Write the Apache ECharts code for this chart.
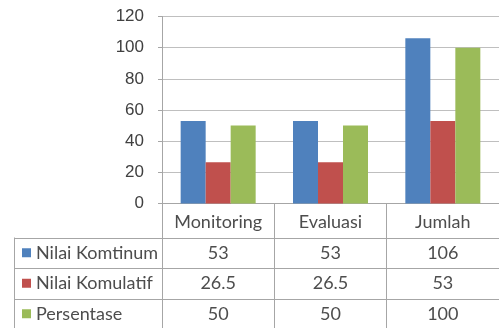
<!DOCTYPE html>
<html>
<head>
<meta charset="utf-8">
<script src="https://cdn.jsdelivr.net/npm/echarts@6/dist/echarts.min.js"></script>
<style>
  html, body { margin: 0; padding: 0; background: #fff; }
  #chart { width: 499px; height: 328px; }
</style>
</head>
<body>
<div id="chart"></div>
<script>
// Categories and series values
const categories = ['Monitoring', 'Evaluasi', 'Jumlah'];
const seriesNames = ['Nilai Komtinum', 'Nilai Komulatif', 'Persentase'];
const komtinum = [53, 53, 106];
const komulatif = [26.5, 26.5, 53];
const persentase = [50, 50, 100];
const seriesValues = [komtinum, komulatif, persentase];
const seriesColors = ['#4F81BD', '#C0504D', '#9BBB59'];
const yMin = 0, yMax = 120, yStep = 20;

// Layout of the plot and the data table beneath it
const gridLeft = 162, gridTop = 16.5, gridWidth = 342, gridHeight = 187;
const gridBottom = gridTop + gridHeight;
const headerH = 34, rowH = 30.5;
const tableLeft = 14;
const lineColor = '#a6a6a6';
const textColor = '#4d4d4d';
const tableFont = 'Lato';

// Axis labels carry the category header and the value rows of the table
function tableColumn(value, idx) {
  const rows = seriesValues.map(s => '{v|' + s[idx] + '}');
  return ['{c|' + value + '}'].concat(rows).join('\n');
}

// Horizontal rules of the table
const tableLines = [];
for (let r = 0; r <= seriesNames.length; r++) {
  const y = Math.round(gridBottom + headerH + r * rowH) + 0.5;
  tableLines.push({
    type: 'line', silent: true,
    shape: { x1: tableLeft, y1: y, x2: gridLeft + gridWidth, y2: y },
    style: { stroke: lineColor, lineWidth: 1 }
  });
}
tableLines.push({
  type: 'line', silent: true,
  shape: { x1: tableLeft + 0.5, y1: gridBottom + headerH, x2: tableLeft + 0.5, y2: gridBottom + headerH + seriesNames.length * rowH + 2 },
  style: { stroke: lineColor, lineWidth: 1 }
});

const chart = echarts.init(document.getElementById('chart'), null, { renderer: 'canvas' });
chart.setOption({
  animation: false,
  backgroundColor: '#fff',
  grid: { left: gridLeft, top: gridTop, width: gridWidth, height: gridHeight, containLabel: false },
  legend: {
    data: seriesNames,
    orient: 'vertical',
    left: 22,
    top: gridBottom + headerH + rowH / 2 - 10,
    padding: 0,
    icon: 'rect',
    itemWidth: 9,
    itemHeight: 9,
    itemGap: rowH - 20,
    selectedMode: false,
    textStyle: { fontFamily: tableFont, fontSize: 18, lineHeight: 20, color: textColor }
  },
  xAxis: {
    type: 'category',
    data: categories,
    axisLine: { show: true, lineStyle: { color: lineColor } },
    axisTick: { show: true, length: 130, interval: 0, lineStyle: { color: lineColor } },
    axisLabel: {
      interval: 0,
      margin: 4,
      formatter: tableColumn,
      rich: {
        c: { fontFamily: tableFont, fontSize: 18, lineHeight: 30, color: textColor, align: 'center' },
        v: { fontFamily: tableFont, fontSize: 18, lineHeight: rowH, color: textColor, align: 'center' }
      }
    }
  },
  yAxis: {
    type: 'value',
    min: yMin, max: yMax, interval: yStep,
    axisLine: { show: true, lineStyle: { color: lineColor } },
    axisTick: { show: true, length: 4, lineStyle: { color: lineColor } },
    axisLabel: { margin: 18, fontFamily: 'Liberation Sans', fontSize: 17, color: '#404040' },
    splitLine: { show: true, lineStyle: { color: '#bfbfbf', width: 1 } }
  },
  series: seriesNames.map((name, i) => ({
    name: name,
    type: 'bar',
    data: seriesValues[i],
    barWidth: 25,
    barGap: '0%',
    itemStyle: { color: seriesColors[i] }
  })),
  graphic: tableLines
});
</script>
</body>
</html>
